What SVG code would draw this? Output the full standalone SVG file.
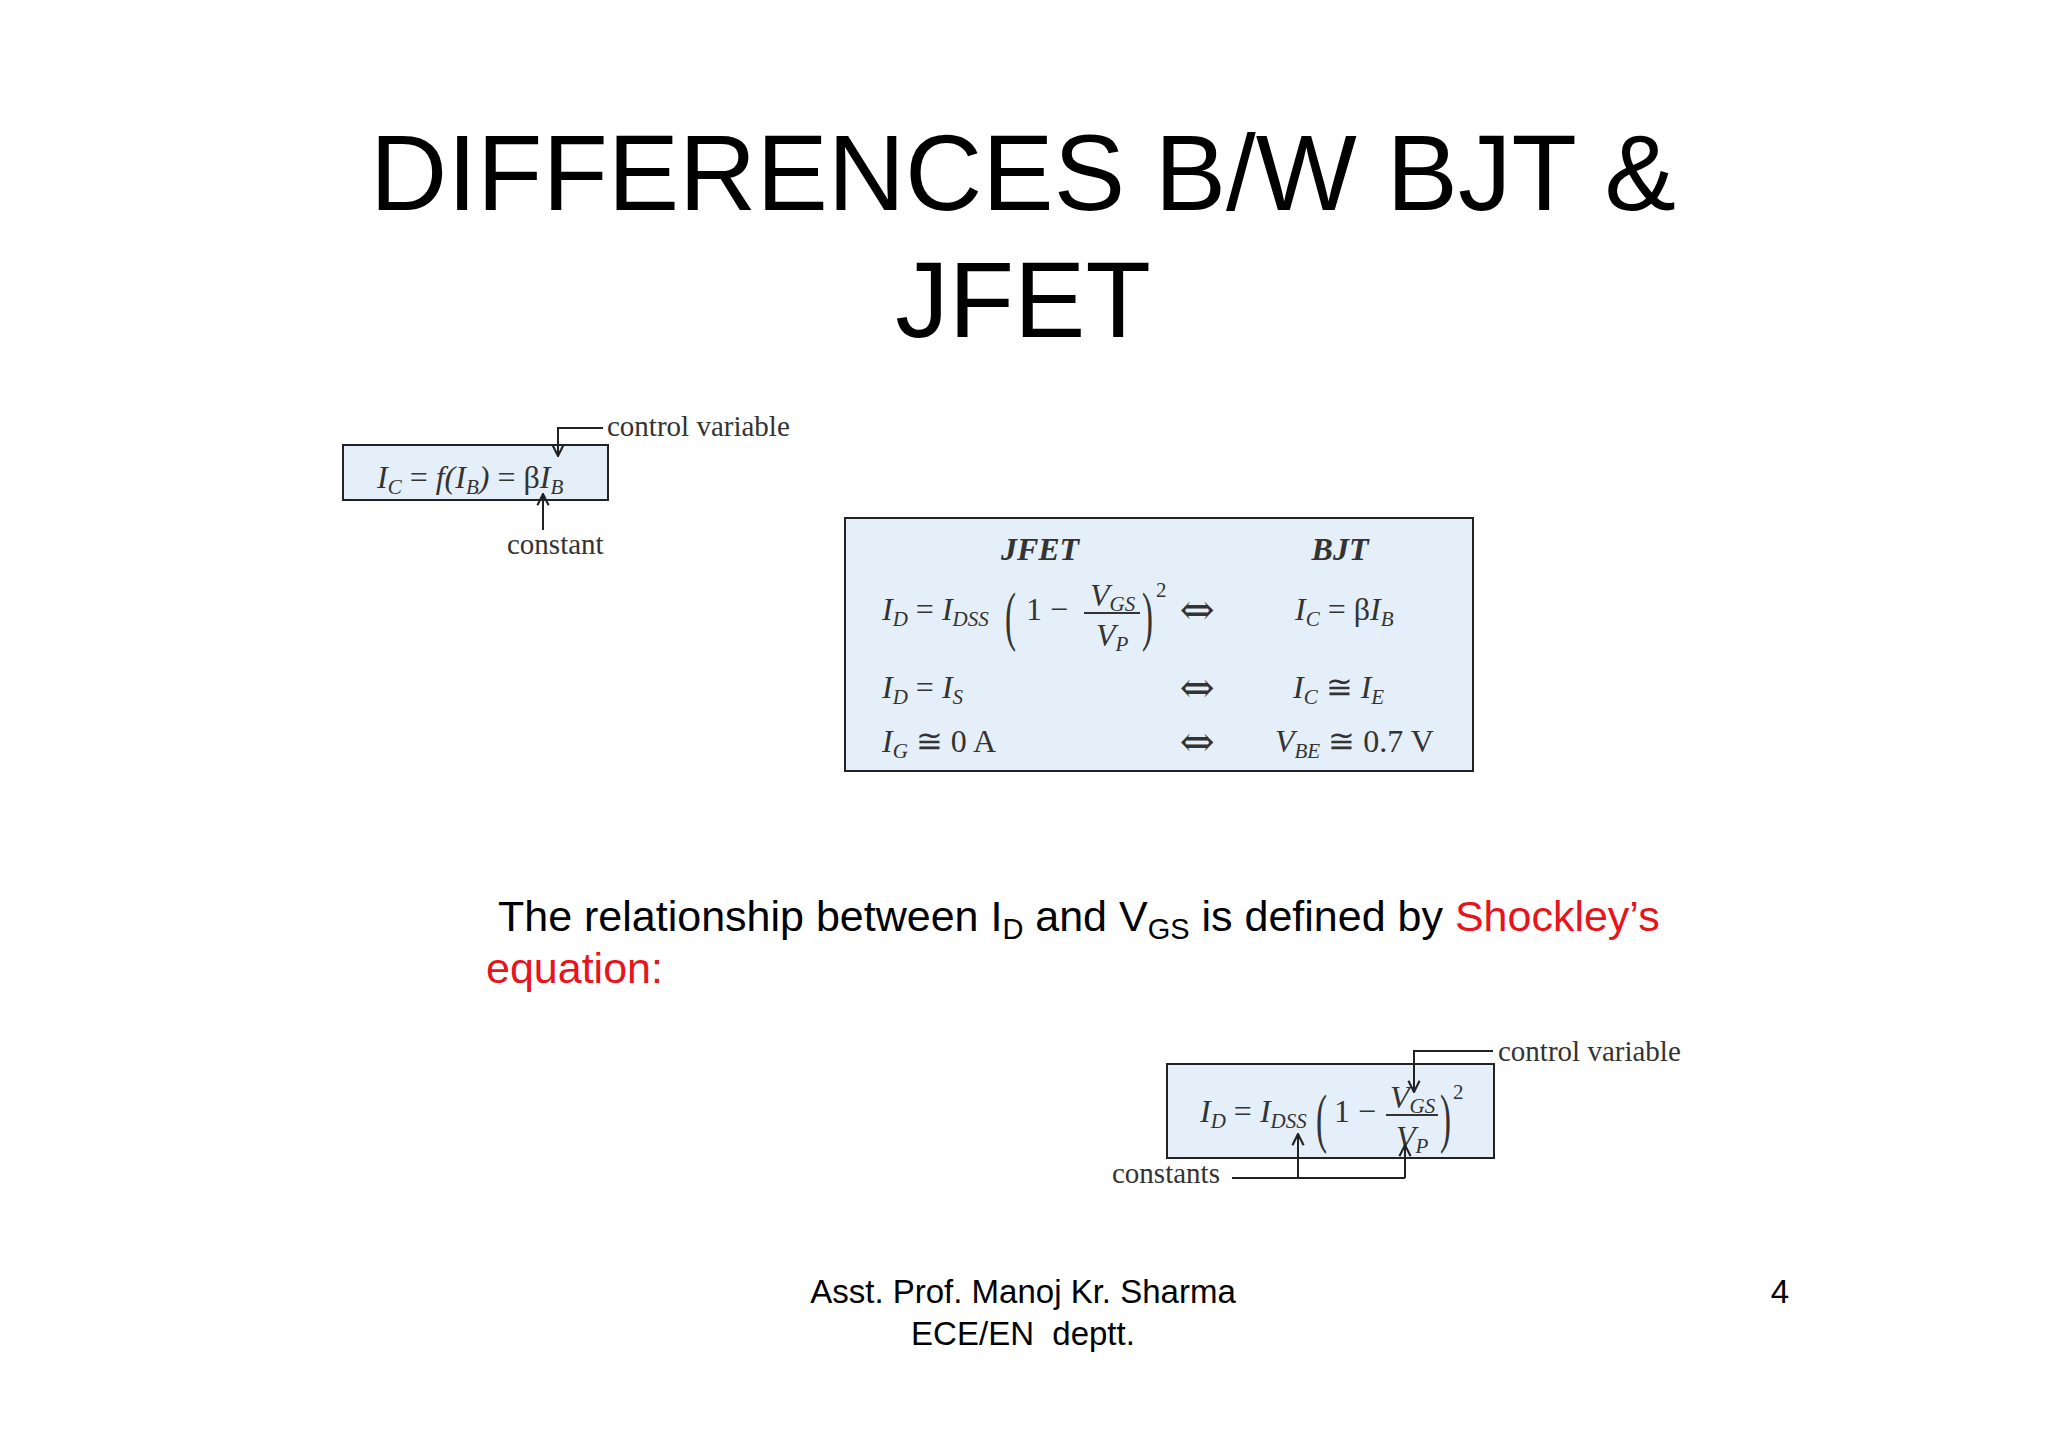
<svg xmlns="http://www.w3.org/2000/svg" width="2048" height="1448" viewBox="0 0 2048 1448">
<defs>
<marker id="ah" viewBox="0 0 10 10" refX="9" refY="5" markerWidth="7" markerHeight="7" orient="auto"><path d="M1,1 L9,5 L1,9" fill="none" stroke="#222" stroke-width="1.5"/></marker>
<style>
.box{fill:#e4eff9;stroke:#222;stroke-width:2}
.m{font-family:"Liberation Serif",serif;font-size:32px;fill:#333}
.i{font-style:italic}
.lb{font-family:"Liberation Serif",serif;font-size:29px;fill:#333}
.s{font-size:21px}
.par{font-family:"Liberation Serif",serif;font-size:66px;fill:#333}
.arr{font-family:"DejaVu Serif",serif;font-size:42px;fill:#333}
.sans{font-family:"Liberation Sans",Arial,sans-serif;fill:#000}
.ln{fill:none;stroke:#222;stroke-width:2}
</style>
</defs>
<rect width="2048" height="1448" fill="#fff"/>
<g id="title" class="sans" font-size="107" text-anchor="middle">
<text x="1023" y="210">DIFFERENCES B/W BJT &amp;</text>
<text x="1023" y="337">JFET</text>
</g>
<g id="bjt-eq">
<rect class="box" x="343" y="445" width="265" height="55"/>
<text class="m i" x="377" y="488">I<tspan class="s" dy="6">C</tspan><tspan dy="-6" font-style="normal"> = </tspan>f(I<tspan class="s" dy="6">B</tspan><tspan dy="-6">) </tspan><tspan font-style="normal">= β</tspan>I<tspan class="s" dy="6">B</tspan></text>
<text class="lb" x="607" y="436">control variable</text>
<text class="lb" x="507" y="554">constant</text>
</g>
<g id="compare">
<rect class="box" x="845" y="518" width="628" height="253"/>
<text class="m i" font-weight="bold" x="1040" y="560" text-anchor="middle">JFET</text>
<text class="m i" font-weight="bold" x="1340" y="560" text-anchor="middle">BJT</text>
<text class="m i" x="882" y="620">I<tspan class="s" dy="6">D</tspan><tspan dy="-6" font-style="normal"> = </tspan>I<tspan class="s" dy="6">DSS</tspan></text>
<text class="par" transform="translate(1005 638) scale(0.5 1)">(</text>
<text class="m" x="1026" y="620">1 −</text>
<text class="m i" x="1090" y="606">V<tspan class="s" dy="5">GS</tspan></text>
<line x1="1084" y1="613" x2="1140" y2="613" stroke="#333" stroke-width="2"/>
<text class="m i" x="1096" y="646">V<tspan class="s" dy="5">P</tspan></text>
<text class="par" transform="translate(1142 638) scale(0.5 1)">)</text>
<text class="m s" x="1156" y="597">2</text>
<text class="arr" x="1197" y="624" text-anchor="middle">⇔</text>
<text class="m i" x="1295" y="620">I<tspan class="s" dy="6">C</tspan><tspan dy="-6" font-style="normal"> = β</tspan>I<tspan class="s" dy="6">B</tspan></text>
<text class="m i" x="882" y="698">I<tspan class="s" dy="6">D</tspan><tspan dy="-6" font-style="normal"> = </tspan>I<tspan class="s" dy="6">S</tspan></text>
<text class="arr" x="1197" y="702" text-anchor="middle">⇔</text>
<text class="m i" x="1293" y="698">I<tspan class="s" dy="6">C</tspan><tspan dy="-6" font-style="normal"> ≅ </tspan>I<tspan class="s" dy="6">E</tspan></text>
<text class="m i" x="882" y="752">I<tspan class="s" dy="6">G</tspan><tspan dy="-6" font-style="normal"> ≅ 0 A</tspan></text>
<text class="arr" x="1197" y="756" text-anchor="middle">⇔</text>
<text class="m i" x="1275" y="752">V<tspan class="s" dy="6">BE</tspan><tspan dy="-6" font-style="normal"> ≅ 0.7 V</tspan></text>
</g>
<g id="sentence" class="sans" font-size="43">
<text x="498" y="931">The relationship between I<tspan font-size="29" dy="8">D</tspan><tspan dy="-8"> and V</tspan><tspan font-size="29" dy="8">GS</tspan><tspan dy="-8"> is defined by </tspan><tspan fill="#e8141b">Shockley’s</tspan></text>
<text x="486" y="983" fill="#e8141b">equation:</text>
</g>
<g id="shockley-eq">
<rect class="box" x="1167" y="1064" width="327" height="94"/>
<text class="m i" x="1200" y="1122">I<tspan class="s" dy="6">D</tspan><tspan dy="-6" font-style="normal"> = </tspan>I<tspan class="s" dy="6">DSS</tspan></text>
<text class="par" transform="translate(1316 1140) scale(0.5 1)">(</text>
<text class="m" x="1334" y="1122">1 −</text>
<text class="m i" x="1390" y="1108">V<tspan class="s" dy="5">GS</tspan></text>
<line x1="1386" y1="1115" x2="1438" y2="1115" stroke="#333" stroke-width="2"/>
<text class="m i" x="1396" y="1148">V<tspan class="s" dy="5">P</tspan></text>
<text class="par" transform="translate(1440 1140) scale(0.5 1)">)</text>
<text class="m s" x="1453" y="1099">2</text>
<text class="lb" x="1498" y="1061">control variable</text>
<text class="lb" x="1112" y="1183">constants</text>
</g>
<g id="connectors">
<path class="ln" d="M603,428 H558 V456" marker-end="url(#ah)"/>
<path class="ln" d="M543,530 V494" marker-end="url(#ah)"/>
<path class="ln" d="M1493,1051 H1414 V1092" marker-end="url(#ah)"/>
<path class="ln" d="M1232,1178 H1405"/>
<path class="ln" d="M1298,1178 V1134" marker-end="url(#ah)"/>
<path class="ln" d="M1405,1178 V1145" marker-end="url(#ah)"/>
</g>
<g id="footer" class="sans" font-size="33">
<text x="1023" y="1303" text-anchor="middle">Asst. Prof. Manoj Kr. Sharma</text>
<text x="1023" y="1345" text-anchor="middle">ECE/EN&#160; deptt.</text>
<text x="1780" y="1303" text-anchor="middle">4</text>
</g>
</svg>
